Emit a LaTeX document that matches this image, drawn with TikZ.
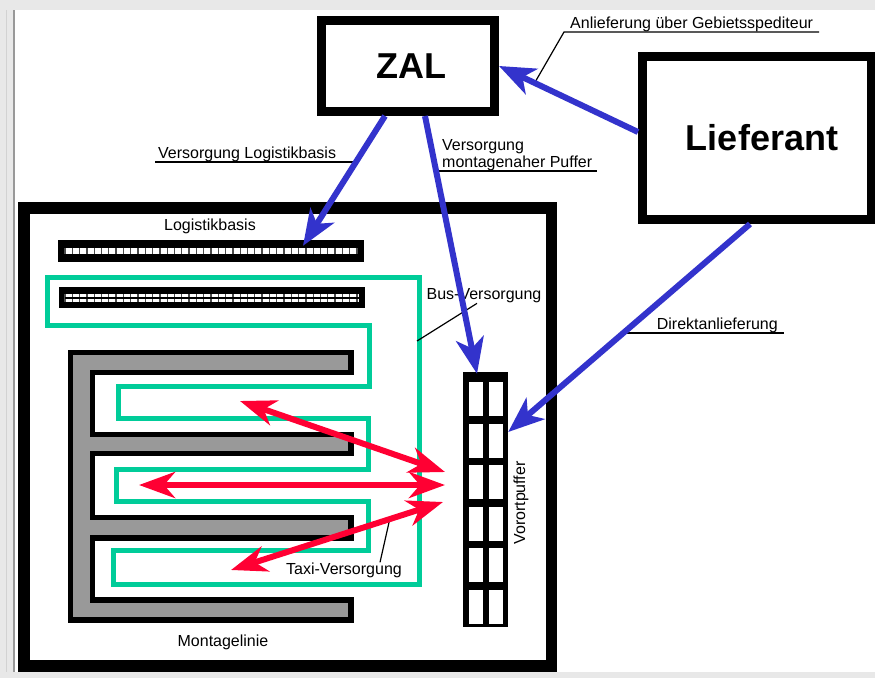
\documentclass[tikz,border=0pt]{standalone}
\usepackage{fontspec}
\setmainfont{Liberation Sans}
\usetikzlibrary{arrows.meta}

\begin{document}
\begin{tikzpicture}[x=1pt, y=-1pt,
    box/.style={draw=black, line width=9pt, fill=white, inner sep=0pt,
        font=\fontsize{36}{40}\selectfont\bfseries},
    lbl/.style={inner sep=0pt, font=\fontsize{16}{17}\selectfont},
    leader/.style={black, line width=1.2pt},
    shelf/.style={fill=black, inner sep=0pt},
    supply/.style={draw=supplyBlue, line width=6pt,
        -{Stealth[length=36pt, width=28pt, inset=10pt]}},
    taxi/.style={draw=taxiRed, line width=6pt,
        {Stealth[length=36pt, width=26pt, inset=11pt]}-{Stealth[length=36pt, width=26pt, inset=11pt]}}]

    \definecolor{paperGrey}{HTML}{E8E8E8}
    \definecolor{supplyBlue}{HTML}{3333CC}
    \definecolor{taxiRed}{HTML}{FF0033}
    \definecolor{busGreen}{HTML}{00CC99}
    \definecolor{lineGrey}{HTML}{999999}

    \useasboundingbox (0,0) rectangle (875,678);

    % Draw background
    \fill[paperGrey] (0,0) rectangle (875,678);
    \fill[white] (15,10) rectangle (875,672);
    \draw[gray!35, line width=1.5pt] (6.5,10) -- (6.5,672);
    \draw[gray!80, line width=2pt] (14,10) -- (14,672);

    % Plant building
    \draw[line width=11.5pt] (24,208) rectangle (551.5,666);

    % Logistikbasis shelves
    \node[shelf, minimum width=306pt, minimum height=22pt] (regal1) at (211,251) {};
    \node[shelf, minimum width=306pt, minimum height=21pt] (regal2) at (212,297.5) {};
    \fill[white] (65,248) rectangle (358,254);
    \fill[white] (65,294) rectangle (359,302);
    \foreach \x in {65,72.3,...,358}
        \draw[gray!60!black, line width=1.3pt] (\x,248) -- (\x,254);
    \foreach \x in {65,72.3,...,359}
        \draw[gray!60!black, line width=1.3pt] (\x,294) -- (\x,302);
    \draw[black, line width=1.3pt] (65,298) -- (359,298);

    % Bus loop
    \draw[busGreen, line width=5pt, line join=miter]
        (47.5,277) -- (419.5,277) -- (419.5,584.5) -- (113.5,584.5) -- (113.5,550.5)
        -- (368.5,550.5) -- (368.5,501.5) -- (116.5,501.5) -- (116.5,469.5)
        -- (368.5,469.5) -- (368.5,418.5) -- (118.5,418.5) -- (118.5,386.5)
        -- (369.5,386.5) -- (369.5,325.5) -- (47.5,325.5) -- cycle;

    % Montagelinie
    \draw[fill=lineGrey, draw=black, line width=5.5pt]
        (70.5,352.5) -- (351,352.5) -- (351,372.5) -- (92.5,372.5) -- (92.5,434.5)
        -- (351,434.5) -- (351,453.5) -- (92.5,453.5) -- (92.5,517.5) -- (351,517.5)
        -- (351,538) -- (92.5,538) -- (92.5,600) -- (351,600) -- (351,620)
        -- (70.5,620) -- cycle;

    % Vorortpuffer rack
    \node[shelf, minimum width=45pt, minimum height=255pt] (puffer) at (485.5,499.5) {};
    \foreach \r in {0,...,5}
        \foreach \c in {469,489}
            \fill[white] (\c,{382+41.6*\r}) rectangle ({\c+14},{416+41.6*\r});

    % ZAL and Lieferant
    \node[box, minimum width=173pt, minimum height=91pt] (zal) at (408,66) {\hspace{6pt}ZAL};
    \node[box, minimum width=229pt, minimum height=163pt] (lief) at (757,138) {\hspace{10pt}Lieferant};

    % Labels
    \node[lbl] (logbas) at (210,226) {Logistikbasis};
    \node[lbl] (montage) at (223,642) {Montagelinie};
    \node[lbl, rotate=90] (vorort) at (521,503) {Vorortpuffer};
    \node[lbl] (bus) at (484,296) {Bus-Versorgung};
    \node[lbl] (taxilbl) at (344,570) {Taxi-Versorgung};
    \node[lbl, anchor=south west, inner xsep=6pt] (anl) at (564,32) {Anlieferung über Gebietsspediteur};
    \node[lbl, anchor=south west, inner xsep=3pt] (vlb) at (155,162) {Versorgung Logistikbasis};
    \node[lbl, anchor=south west, inner xsep=5pt, align=left] (vmp) at (437,171) {Versorgung\\montagenaher Puffer};
    \node[lbl, anchor=south east, inner xsep=6pt] (dir) at (784,333) {Direktanlieferung};

    % Leader lines
    \coordinate (anl-foot) at (534,84);
    \coordinate (vlb-foot) at (356,162);
    \coordinate (vmp-foot) at (436,171);
    \coordinate (dir-foot) at (623,333);
    \coordinate (bus-foot) at (417,341);
    \coordinate (taxi-foot) at (390,518);
    \draw[leader] (anl-foot) -- (anl.south west) -- (anl.south east);
    \draw[leader] (vlb.south west) -- (vlb-foot);
    \draw[leader] (vmp-foot) -- (vmp.south east);
    \draw[leader] (dir-foot) -- (dir.south east);
    \draw[leader] (bus-foot) -- ([xshift=-7pt]bus.south);
    \draw[leader] ([xshift=36pt]taxilbl.north) -- (taxi-foot);

    % Taxi-Versorgung
    \coordinate (taxi1a) at (240,401);
    \coordinate (taxi1b) at (445,472);
    \coordinate (taxi2a) at (139,485);
    \coordinate (taxi2b) at (445,485);
    \coordinate (taxi3a) at (231,570);
    \coordinate (taxi3b) at (443,502);
    \draw[taxi] (taxi1a) -- (taxi1b);
    \draw[taxi] (taxi2a) -- (taxi2b);
    \draw[taxi] (taxi3a) -- (taxi3b);

    % Supply flows
    \draw[supply] ([yshift=6pt]lief.west) -- (zal.east);
    \draw[supply] ([xshift=-23pt]zal.south) -- ([xshift=92pt, yshift=-6pt]regal1.north);
    \draw[supply] ([xshift=17pt]zal.south) -- ([xshift=-8.5pt, yshift=-2pt]puffer.north);
    \draw[supply] ([xshift=-7pt]lief.south) -- ([yshift=67.5pt]puffer.east);

\end{tikzpicture}
\end{document}
